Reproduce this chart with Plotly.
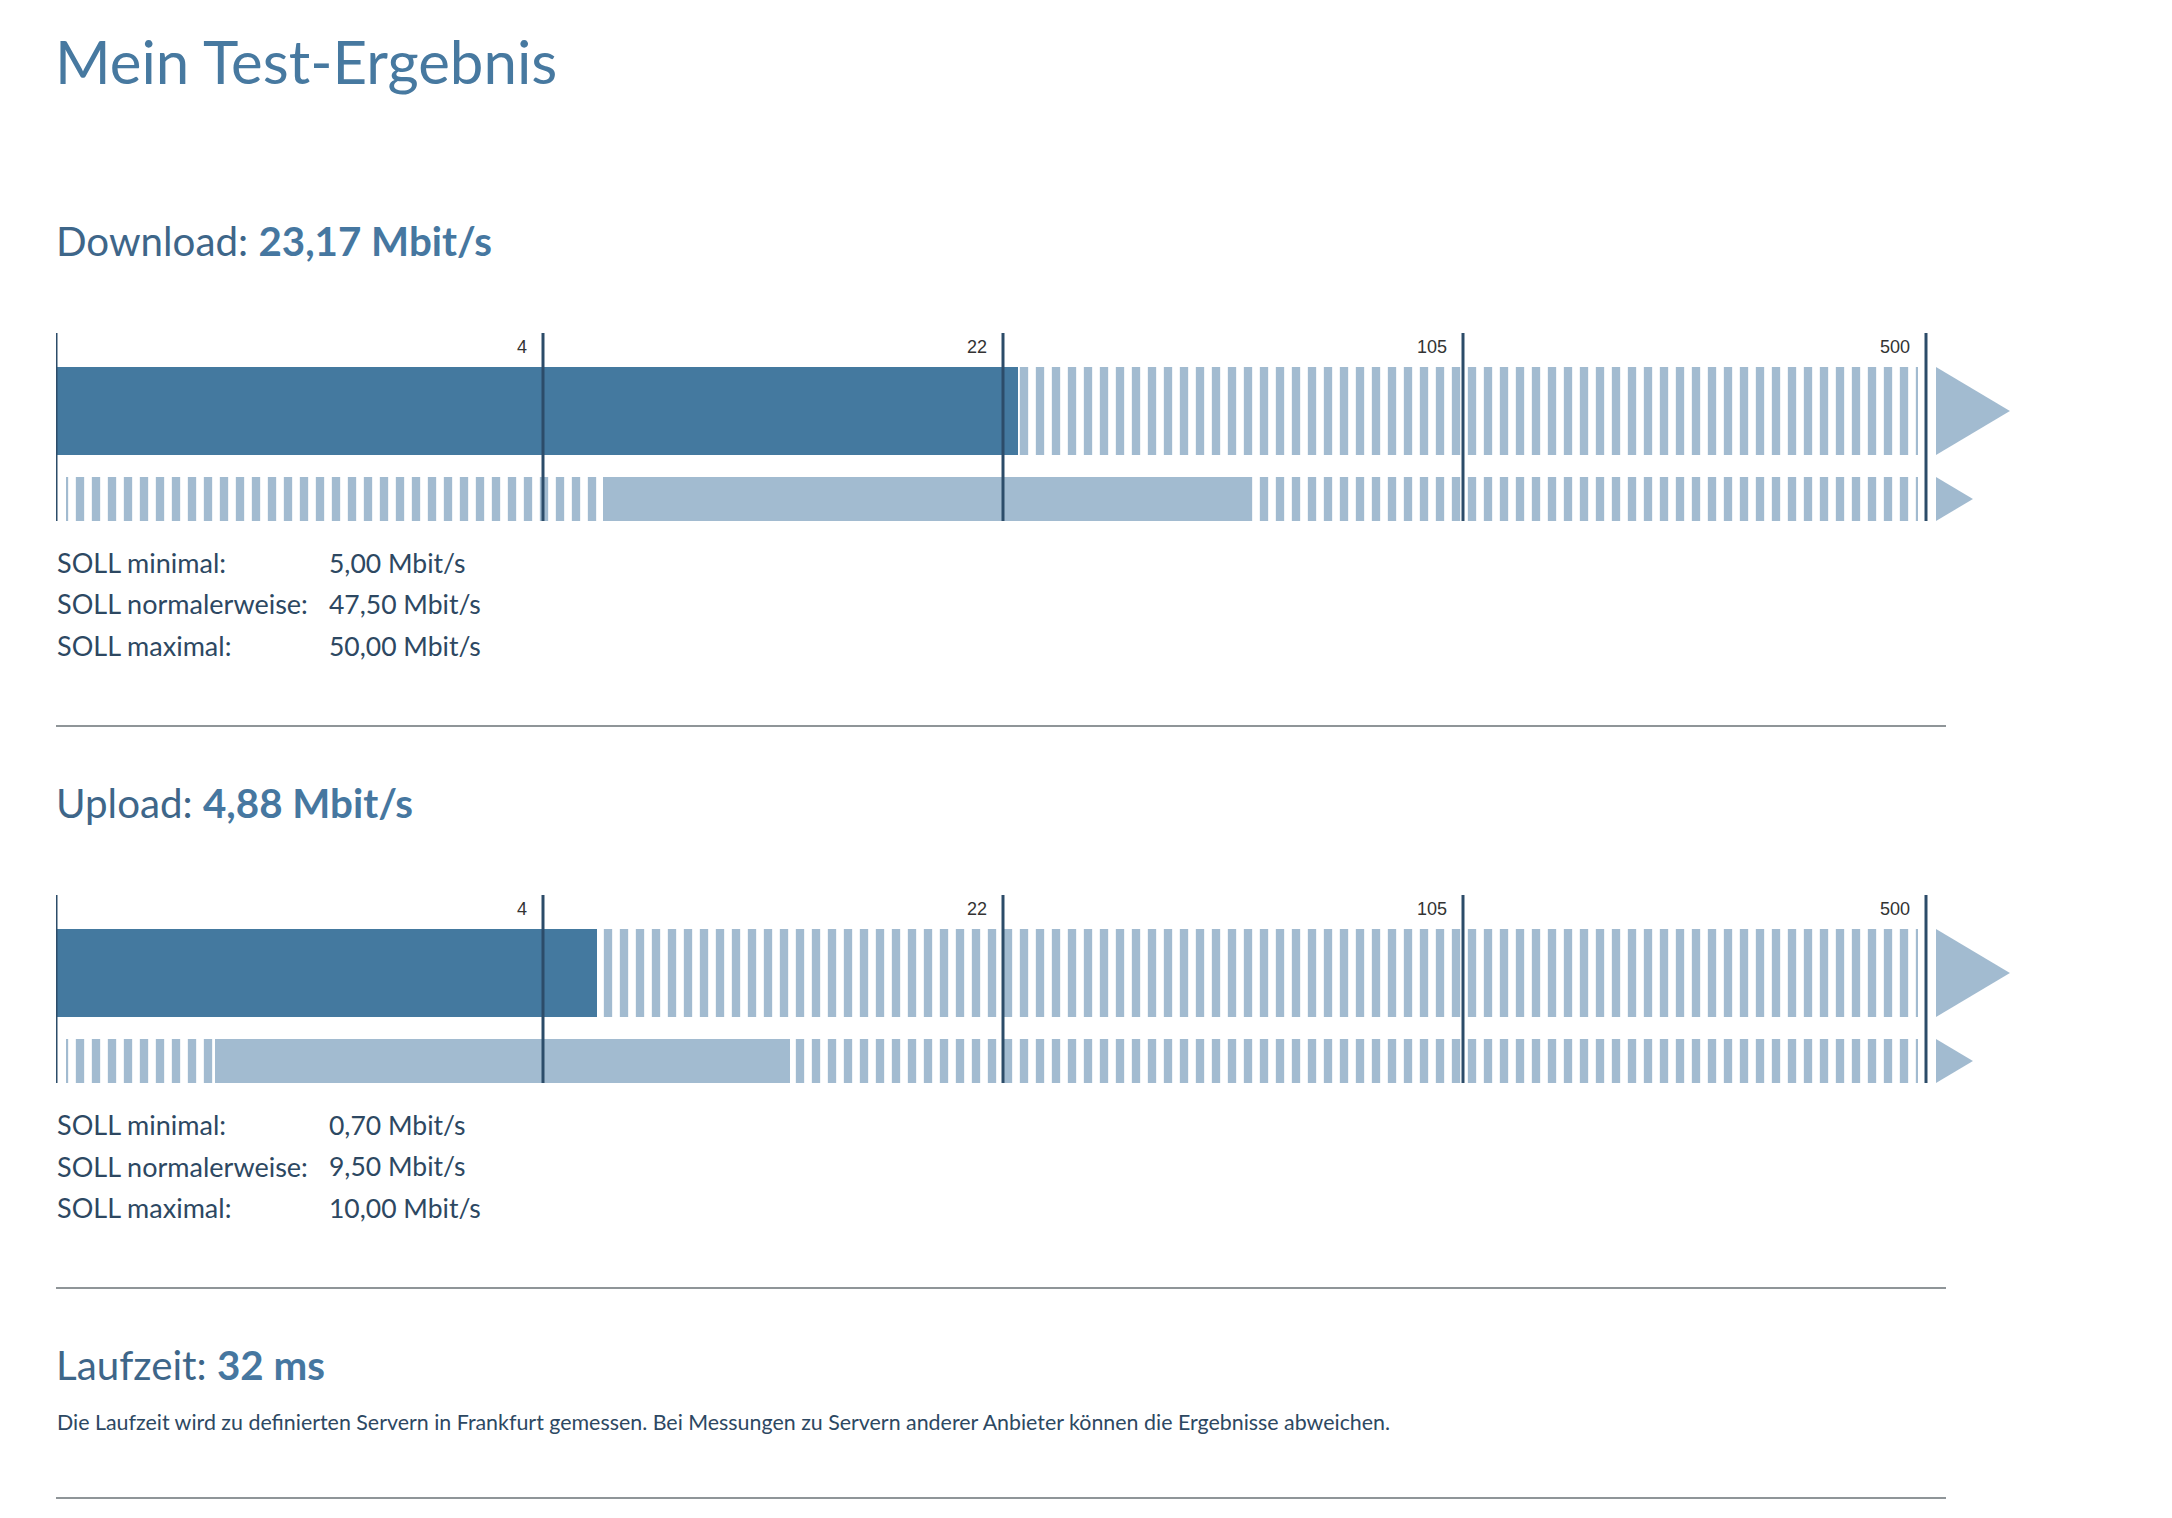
import math
import plotly.graph_objects as go

# ---------------- data ----------------
scale_breaks = [0.3, 4, 22, 105, 500]          # piecewise-log scale breakpoints
break_labels = ["4", "22", "105", "500"]

download_measured = 23.17
download_soll_min = 5.00
download_soll_normal = 47.50
download_soll_max = 50.00

upload_measured = 4.88
upload_soll_min = 0.70
upload_soll_normal = 9.50
upload_soll_max = 10.00

latency_ms = 32

soll_labels = ["SOLL minimal:", "SOLL normalerweise:", "SOLL maximal:"]
footnote = ("Die Laufzeit wird zu definierten Servern in Frankfurt gemessen. "
            "Bei Messungen zu Servern anderer Anbieter können die Ergebnisse abweichen.")

# ---------------- style / layout ----------------
PAGE_W, PAGE_H = 2172, 1518
BODY = 8                                  # default page body margin
W, H = PAGE_W - 2 * BODY, PAGE_H - 2 * BODY
LEFT = 56                                 # page x of the bars' left edge
EDGE_PX = [0, 487, 947, 1407, 1870]       # pixel offset of each breakpoint from LEFT
CHART_H = 188                             # divider height in px
ROW1 = (66, 154)                          # measured bar (bottom, top) px within chart
ROW2 = (0, 44)                            # SOLL range bar
DARK = "#44799f"
LIGHT = "#a2bbd0"
NAVY = "#2c4c69"
TITLE_C = "#4779a0"
HEAD_C = "#3e6689"
VAL_C = "#4677a0"
TEXT_C = "#2d4862"
RULE_C = "#8f9598"
FONT = "Lato"


def scale(v):
    if v <= scale_breaks[0]:
        return EDGE_PX[0]
    for i in range(len(scale_breaks) - 1):
        lo, hi = scale_breaks[i], scale_breaks[i + 1]
        if v <= hi:
            f = math.log(v / lo) / math.log(hi / lo)
            return EDGE_PX[i] + f * (EDGE_PX[i + 1] - EDGE_PX[i])
    return EDGE_PX[-1]


def de(v):
    return f"{v:.2f}".replace(".", ",")


def px_x(px):
    return (px - BODY) / W


def px_y(px):
    return 1 - (px - BODY) / H


fig = go.Figure()
annotations = []
shapes = []


def add_chart(n, top_px, measured, smin, snorm, smax):
    xa = "x" if n == 1 else f"x{n}"
    ya = "y" if n == 1 else f"y{n}"
    c1 = (ROW1[0] + ROW1[1]) / 2
    w1 = ROW1[1] - ROW1[0]
    c2 = (ROW2[0] + ROW2[1]) / 2
    w2 = ROW2[1] - ROW2[0]
    stripe_start, stripe_end = 10, EDGE_PX[-1] - 8
    # striped background in both rows
    fig.add_trace(go.Bar(
        orientation="h", y=[c1, c2], base=[stripe_start, stripe_start],
        x=[stripe_end - stripe_start] * 2, width=[w1, w2],
        marker=dict(color=LIGHT, line_width=0,
                    pattern=dict(shape="|", size=16, solidity=0.52,
                                 fillmode="replace", bgcolor="white", fgcolor=LIGHT)),
        xaxis=xa, yaxis=ya, hoverinfo="skip", showlegend=False))
    # SOLL range (light solid)
    fig.add_trace(go.Bar(
        orientation="h", y=[c2], base=[scale(smin)], x=[scale(smax) - scale(smin)],
        width=[w2], marker=dict(color=LIGHT, line_width=0),
        xaxis=xa, yaxis=ya, hoverinfo="skip", showlegend=False))
    # measured value (dark solid)
    fig.add_trace(go.Bar(
        orientation="h", y=[c1], base=[0], x=[scale(measured)],
        width=[w1], marker=dict(color=DARK, line_width=0),
        xaxis=xa, yaxis=ya, hoverinfo="skip", showlegend=False))
    # dividers
    for b in scale_breaks:
        x = scale(b)
        shapes.append(dict(type="line", xref=xa, yref=ya, x0=x, x1=x, y0=0, y1=CHART_H,
                           line=dict(color=NAVY, width=3), layer="above"))
    for b, lab in zip(scale_breaks[1:], break_labels):
        annotations.append(dict(xref=xa, yref=ya, x=scale(b), y=CHART_H - 14, text=lab,
                                xanchor="right", yanchor="middle", xshift=-14, showarrow=False,
                                font=dict(family="Liberation Sans", size=18, color="#333")))
    # arrows
    ax0 = EDGE_PX[-1] + 10
    for (lo, hi) in (ROW1, ROW2):
        h = hi - lo
        tip = ax0 + h * 0.84
        shapes.append(dict(type="path", xref=xa, yref=ya, layer="below",
                           path=f"M{ax0},{lo} L{tip},{(lo + hi) / 2} L{ax0},{hi} Z",
                           fillcolor=LIGHT, line=dict(width=0)))
    # axes
    fig.layout[("xaxis" if n == 1 else f"xaxis{n}")] = dict(
        domain=[px_x(LEFT), 1], range=[0, W - (LEFT - BODY)], visible=False, fixedrange=True)
    fig.layout[("yaxis" if n == 1 else f"yaxis{n}")] = dict(
        domain=[px_y(top_px + CHART_H), px_y(top_px)], range=[0, CHART_H], visible=False,
        fixedrange=True, anchor=xa)
    # SOLL text rows
    vals = [smin, snorm, smax]
    for i, (lab, v) in enumerate(zip(soll_labels, vals)):
        yy = top_px + 229.5 + 41.5 * i
        annotations.append(dict(xref="paper", yref="paper", x=px_x(LEFT - 1), y=px_y(yy), text=lab,
                                xanchor="left", yanchor="middle", showarrow=False,
                                font=dict(family=FONT, size=27, color=TEXT_C)))
        annotations.append(dict(xref="paper", yref="paper", x=px_x(327), y=px_y(yy),
                                text=f"{de(v)} Mbit/s",
                                xanchor="left", yanchor="middle", showarrow=False,
                                font=dict(family=FONT, size=26.5, color=TEXT_C)))


SECTION_OFFSET = 562
add_chart(1, 333, download_measured, download_soll_min, download_soll_normal, download_soll_max)
add_chart(2, 333 + SECTION_OFFSET, upload_measured, upload_soll_min, upload_soll_normal, upload_soll_max)


def text(x_px, y_px, s, size, color):
    annotations.append(dict(xref="paper", yref="paper", x=px_x(x_px), y=px_y(y_px), text=s,
                            xanchor="left", yanchor="middle", showarrow=False,
                            font=dict(family=FONT, size=size, color=color)))


text(LEFT - 3, 61, "Mein Test-Ergebnis", 60, TITLE_C)
text(LEFT - 2, 240, f"Download: <b><span style='color:{VAL_C}'>{de(download_measured)} Mbit/s</span></b>", 40.3, HEAD_C)
text(LEFT - 2, 240 + SECTION_OFFSET, f"Upload: <b><span style='color:{VAL_C}'>{de(upload_measured)} Mbit/s</span></b>", 40.3, HEAD_C)
text(LEFT - 2, 1364, f"Laufzeit: <b><span style='color:{VAL_C}'>{latency_ms} ms</span></b>", 40.3, HEAD_C)
text(LEFT - 1, 1422, footnote, 21.4, TEXT_C)

for yy in (726, 1288, 1498):
    shapes.append(dict(type="line", xref="paper", yref="paper", x0=px_x(LEFT), x1=px_x(1946),
                       y0=px_y(yy), y1=px_y(yy), line=dict(color=RULE_C, width=2)))

fig.update_layout(
    width=W, height=H, margin=dict(l=0, r=0, t=0, b=0),
    paper_bgcolor="white", plot_bgcolor="white",
    barmode="overlay", bargap=0, showlegend=False,
    annotations=annotations, shapes=shapes,
)

fig.write_html("out.html")
